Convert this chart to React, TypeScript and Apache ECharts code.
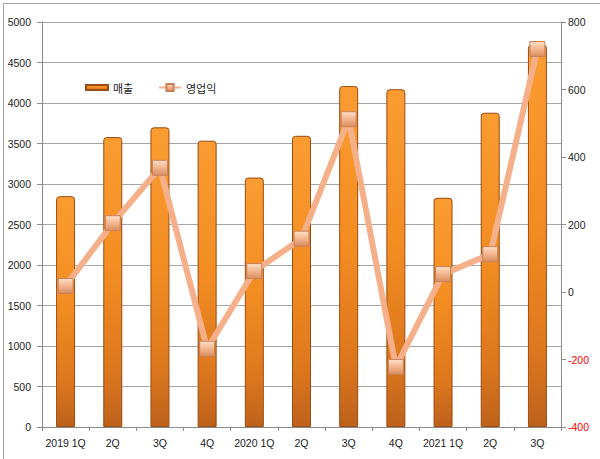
import React, { useEffect, useRef } from "react";
import * as echarts from "echarts";

const categories = ["2019 1Q", "2Q", "3Q", "4Q", "2020 1Q", "2Q", "3Q", "4Q", "2021 1Q", "2Q", "3Q"];
const salesValues = [2850, 3580, 3700, 3535, 3080, 3595, 4210, 4170, 2830, 3880, 4720];
const profitValues = [18, 204, 368, -168, 62, 158, 512, -222, 53, 112, 720];
const leftTicks = { min: 0, max: 5000, interval: 500 };
const rightTicks = { min: -400, max: 800, interval: 200 };
const salesName = "매출";
const profitName = "영업익";

export default function App() {
  const ref = useRef<HTMLDivElement>(null);
  useEffect(() => {
    if (!ref.current) return;
    const chart = echarts.init(ref.current, undefined, { renderer: "svg" });
    const barFill = new echarts.graphic.LinearGradient(0, 0, 0, 1, [
      { offset: 0, color: "#fa9c32" },
      { offset: 0.45, color: "#f38d22" },
      { offset: 0.8, color: "#dd771d" },
      { offset: 1, color: "#bd621c" },
    ]);
    const markerFill = new echarts.graphic.LinearGradient(0, 0, 0, 1, [
      { offset: 0, color: "#fde0c8" },
      { offset: 0.5, color: "#f2b58e" },
      { offset: 1, color: "#d98c5f" },
    ]);
    const labelFont = { fontFamily: "Liberation Sans, Arial, sans-serif", fontSize: 10.5, color: "#222" };
    chart.setOption({
      animation: false,
      backgroundColor: "#ffffff",
      grid: { left: 42, right: 39, top: 22, bottom: 32, containLabel: false },
      legend: [
        {
          data: [{ name: salesName, icon: "rect" }],
          left: 80,
          top: 77,
          itemWidth: 22,
          itemHeight: 5,
          textStyle: { fontFamily: "Noto Sans CJK KR", fontSize: 11, color: "#222" },
        },
        {
          data: [{ name: profitName }],
          left: 153,
          top: 77,
          itemWidth: 22,
          itemHeight: 9,
          textStyle: { fontFamily: "Noto Sans CJK KR", fontSize: 11, color: "#222" },
        },
      ],
      xAxis: {
        type: "category",
        data: categories,
        boundaryGap: true,
        axisLine: { lineStyle: { color: "#8c8c8c" } },
        axisTick: { show: true, length: 4, alignWithLabel: false, lineStyle: { color: "#8c8c8c" } },
        axisLabel: { ...labelFont, margin: 10, interval: 0 },
      },
      yAxis: [
        {
          type: "value",
          min: leftTicks.min,
          max: leftTicks.max,
          interval: leftTicks.interval,
          position: "left",
          axisLine: { show: true, lineStyle: { color: "#8c8c8c" } },
          axisTick: { show: true, length: 5, lineStyle: { color: "#8c8c8c" } },
          axisLabel: { ...labelFont, margin: 11, formatter: (v: number) => String(v) },
          splitLine: { show: true, lineStyle: { color: "#a6a6a6", width: 1 } },
        },
        {
          type: "value",
          min: rightTicks.min,
          max: rightTicks.max,
          interval: rightTicks.interval,
          position: "right",
          axisLine: { show: true, lineStyle: { color: "#8c8c8c" } },
          axisTick: { show: true, length: 5, lineStyle: { color: "#8c8c8c" } },
          axisLabel: {
            ...labelFont,
            margin: 7,
            formatter: (v: number) => String(v),
            color: (v: any) => (Number(v) < 0 ? "#ff0000" : "#222"),
          },
          splitLine: { show: false },
        },
      ],
      series: [
        {
          name: salesName,
          type: "bar",
          yAxisIndex: 0,
          data: salesValues,
          barWidth: 19,
          itemStyle: { color: barFill, borderColor: "#9a4c12", borderWidth: 1, borderRadius: [3, 3, 0, 0] },
          z: 2,
        },
        {
          name: profitName,
          type: "line",
          yAxisIndex: 1,
          data: profitValues,
          symbol: "rect",
          symbolSize: 15,
          lineStyle: { color: "#f5b08a", width: 6 },
          itemStyle: { color: markerFill, borderColor: "#c98059", borderWidth: 1 },
          z: 3,
        },
      ],
      graphic: [
        {
          type: "rect",
          left: 1,
          top: 1,
          shape: { width: 597, height: 456 },
          style: { fill: "none", stroke: "#a0a0a0", lineWidth: 1 },
          silent: true,
          z: 0,
        },
      ],
    });
    return () => chart.dispose();
  }, []);
  return <div ref={ref} style={{ position: "fixed", left: 0, top: 0, width: 600, height: 459 }} />;
}
